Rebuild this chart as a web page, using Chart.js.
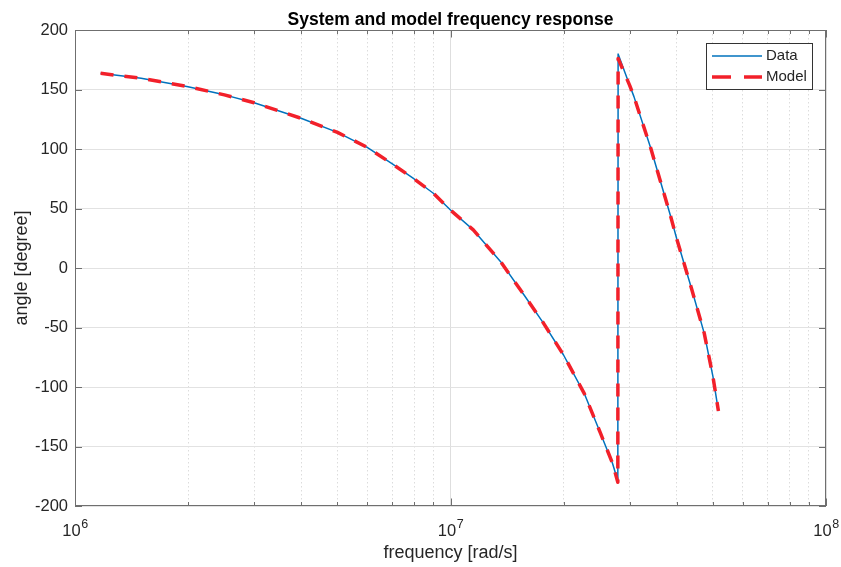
<!DOCTYPE html>
<html>
<head>
<meta charset="utf-8">
<title>System and model frequency response</title>
<script src="https://cdn.jsdelivr.net/npm/chart.js@4.4.1/dist/chart.umd.min.js"></script>
<style>
  html, body { margin: 0; padding: 0; background: #fff; }
  #wrap { width: 841px; height: 567px; }
</style>
</head>
<body>
<div id="wrap"><canvas id="freqChart" width="841" height="567"></canvas></div>
<script>
// frequency [rad/s] and phase angle [degree] for measured data and fitted model
const freq = [1.17e6, 1.5e6, 2e6, 2.5e6, 3e6, 4e6, 5e6, 6e6, 7e6, 8e6, 9e6, 1e7,
  1.15e7, 1.36e7, 1.57e7, 1.77e7, 2e7, 2.27e7, 2.51e7, 2.7e7, 2.79e7, 2.795e7,
  3e7, 3.08e7, 3.415e7, 3.86e7, 4e7, 4.37e7, 4.74e7, 5e7, 5.17e7];
const dataAngle = [163.6, 159.4, 152.4, 145.5, 138.9, 125.8, 114, 101.4, 87.4, 74.8, 62.8, 48.7,
  32, 5.3, -22.7, -46.5, -73.1, -105.3, -139, -164, -179, 179.8,
  153.5, 144, 100.6, 43.1, 25, -15.7, -54.9, -91.3, -120.2];
const modelAngle = [163.6, 159.4, 152.4, 145.5, 138.9, 125.8, 114, 101.4, 87.4, 74.8, 62.8, 48.7,
  32, 5.3, -22.7, -46.5, -73.1, -105.3, -139, -164, -180, 176,
  153.5, 144, 100.6, 43.1, 25, -15.7, -54.9, -91.3, -120.2];

// axis ticks
const xTicks = [1e6, 2e6, 3e6, 4e6, 5e6, 6e6, 7e6, 8e6, 9e6,
  1e7, 2e7, 3e7, 4e7, 5e7, 6e7, 7e7, 8e7, 9e7, 1e8];
const xDecades = [6, 7, 8];
const yTicks = [-200, -150, -100, -50, 0, 50, 100, 150, 200];

const FONT = '"Liberation Sans", Arial, Helvetica, sans-serif';
const TEXT = '#262626';
const BLUE = '#0072bd';
const RED = '#f2202a';

function isDecade(v) {
  return Math.abs(Math.log10(v) - Math.round(Math.log10(v))) < 1e-9;
}

// box, inward ticks, labels, title and legend drawn in matlab style
const matlabAxes = {
  id: 'matlabAxes',
  afterDraw(chart) {
    const { ctx, chartArea: a, scales: { x, y } } = chart;
    ctx.save();

    ctx.strokeStyle = '#6f6f6f';
    ctx.lineWidth = 1;
    ctx.strokeRect(a.left + 0.5, a.top + 0.5, a.right - a.left - 1, a.bottom - a.top - 1);

    ctx.beginPath();
    xTicks.forEach(v => {
      const px = Math.round(x.getPixelForValue(v)) + 0.5;
      const len = isDecade(v) ? 7.5 : 4;
      ctx.moveTo(px, a.bottom); ctx.lineTo(px, a.bottom - len);
      ctx.moveTo(px, a.top); ctx.lineTo(px, a.top + len);
    });
    yTicks.forEach(v => {
      const py = Math.round(y.getPixelForValue(v)) + 0.5;
      ctx.moveTo(a.left, py); ctx.lineTo(a.left + 7, py);
      ctx.moveTo(a.right, py); ctx.lineTo(a.right - 7, py);
    });
    ctx.stroke();

    // y tick labels
    ctx.fillStyle = TEXT;
    ctx.font = '16.5px ' + FONT;
    ctx.textAlign = 'right';
    ctx.textBaseline = 'middle';
    yTicks.forEach(v => {
      ctx.fillText(String(v), a.left - 7, y.getPixelForValue(v));
    });

    // x tick labels as 10 with superscript exponent
    ctx.textAlign = 'left';
    ctx.textBaseline = 'alphabetic';
    xDecades.forEach(n => {
      const px = x.getPixelForValue(Math.pow(10, n));
      ctx.font = '16.5px ' + FONT;
      const wb = ctx.measureText('10').width;
      ctx.font = '12.5px ' + FONT;
      const we = ctx.measureText(String(n)).width;
      const x0 = px - (wb + we) / 2;
      ctx.font = '16.5px ' + FONT;
      ctx.fillText('10', x0, a.bottom + 30);
      ctx.font = '12.5px ' + FONT;
      ctx.fillText(String(n), x0 + wb + 0.5, a.bottom + 22);
    });

    // axis titles
    const cx = (a.left + a.right) / 2;
    ctx.font = '18px ' + FONT;
    ctx.textAlign = 'center';
    ctx.fillText('frequency [rad/s]', cx, 558);
    ctx.save();
    ctx.translate(22, (a.top + a.bottom) / 2);
    ctx.rotate(-Math.PI / 2);
    ctx.textBaseline = 'middle';
    ctx.fillText('angle [degree]', 0, 0);
    ctx.restore();

    ctx.font = 'bold 17.5px ' + FONT;
    ctx.fillStyle = '#000';
    ctx.fillText('System and model frequency response', cx, 25);

    // legend box
    const lx = 706.5, ly = 43.5, lw = 106, lh = 46;
    ctx.fillStyle = '#fff';
    ctx.fillRect(lx, ly, lw, lh);
    ctx.strokeStyle = '#333';
    ctx.lineWidth = 1;
    ctx.strokeRect(lx, ly, lw, lh);

    ctx.strokeStyle = BLUE;
    ctx.lineWidth = 1.5;
    ctx.beginPath(); ctx.moveTo(712, 56); ctx.lineTo(762, 56); ctx.stroke();

    ctx.strokeStyle = RED;
    ctx.lineWidth = 3.5;
    ctx.setLineDash([19, 13]);
    ctx.beginPath(); ctx.moveTo(712, 77); ctx.lineTo(762, 77); ctx.stroke();
    ctx.setLineDash([]);

    ctx.fillStyle = TEXT;
    ctx.font = '15px ' + FONT;
    ctx.textAlign = 'left';
    ctx.textBaseline = 'middle';
    ctx.fillText('Data', 766, 56);
    ctx.fillText('Model', 766, 77);

    ctx.restore();
  }
};

const ctx = document.getElementById('freqChart').getContext('2d');
new Chart(ctx, {
  type: 'scatter',
  data: {
    datasets: [
      {
        label: 'Data',
        data: freq.map((f, i) => ({ x: f, y: dataAngle[i] })),
        showLine: true,
        borderColor: BLUE,
        borderWidth: 1.5,
        borderJoinStyle: 'round',
        pointRadius: 0,
        order: 1
      },
      {
        label: 'Model',
        data: freq.map((f, i) => ({ x: f, y: modelAngle[i] })),
        showLine: true,
        borderColor: RED,
        borderWidth: 3.5,
        borderDash: [13, 11],
        borderJoinStyle: 'round',
        pointRadius: 0,
        order: 0
      }
    ]
  },
  options: {
    responsive: false,
    animation: false,
    devicePixelRatio: 1,
    layout: { padding: { left: 75, top: 30, right: 15, bottom: 61 } },
    plugins: {
      legend: { display: false },
      title: { display: false },
      tooltip: { enabled: false }
    },
    scales: {
      x: {
        type: 'logarithmic',
        min: 1e6,
        max: 1e8,
        afterBuildTicks: scale => { scale.ticks = xTicks.map(v => ({ value: v })); },
        ticks: { display: false },
        grid: {
          drawTicks: false,
          color: c => isDecade(c.tick.value) ? '#dedede' : '#dcdcdc',
          lineWidth: 1
        },
        border: {
          display: false,
          dash: c => isDecade(c.tick.value) ? [] : [1.5, 2.5]
        }
      },
      y: {
        type: 'linear',
        min: -200,
        max: 200,
        afterBuildTicks: scale => { scale.ticks = yTicks.map(v => ({ value: v })); },
        ticks: { display: false },
        grid: { drawTicks: false, color: '#e2e2e2', lineWidth: 1 },
        border: { display: false }
      }
    }
  },
  plugins: [matlabAxes]
});
</script>
</body>
</html>
